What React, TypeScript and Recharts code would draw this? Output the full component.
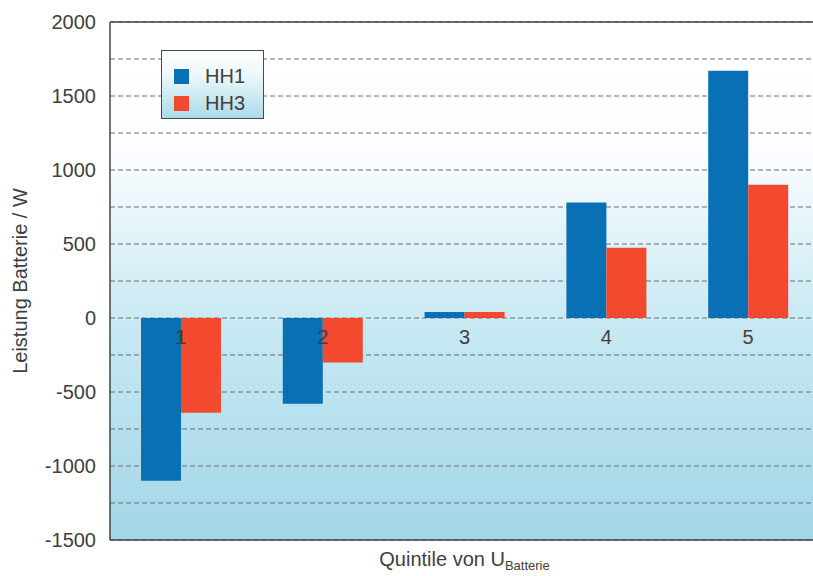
import {
  BarChart,
  Bar,
  XAxis,
  YAxis,
  CartesianGrid,
  Legend,
  ReferenceLine,
} from "recharts";

const quintiles = ["1", "2", "3", "4", "5"];
const hh1 = [-1100, -580, 40, 780, 1670];
const hh3 = [-640, -300, 40, 475, 900];
const yTicks = [-1500, -1250, -1000, -750, -500, -250, 0, 250, 500, 750, 1000, 1250, 1500, 1750, 2000];

const data = quintiles.map((q, i) => ({ name: q, HH1: hh1[i], HH3: hh3[i] }));

const Y_MIN = -1500;
const Y_MAX = 2000;
const CHART_W = 829;
const CHART_H = 576;
const MARGIN_TOP = 22;
const X_AXIS_H = 36;
const PLOT_H = CHART_H - MARGIN_TOP - X_AXIS_H;
// y of the zero line, category numbers sit just below it
const ZERO_Y = MARGIN_TOP + (PLOT_H * Y_MAX) / (Y_MAX - Y_MIN);

const FONT = "'Liberation Sans', Arial, sans-serif";
const TEXT = "#404040";

const CategoryTick = (props: any) => {
  const { x, payload } = props;
  return (
    <text x={x} y={ZERO_Y + 26} textAnchor="middle" fontSize={20} fill={TEXT} fontFamily={FONT}>
      {payload.value}
    </text>
  );
};

const XTitle = (props: any) => {
  const vb = props.viewBox || {};
  const cx = vb.x + vb.width / 2;
  return (
    <text x={cx} y={566} textAnchor="middle" fontSize={20} fill={TEXT} fontFamily={FONT}>
      Quintile von U
      <tspan fontSize={13} dy={4}>
        Batterie
      </tspan>
    </text>
  );
};

const LegendBox = (props: any) => {
  const items = props.payload || [];
  return (
    <div
      style={{
        width: 103,
        height: 69,
        boxSizing: "border-box",
        border: "1.5px solid #4a4a4a",
        background: "linear-gradient(to bottom, #ffffff 0%, #eef8fb 35%, #a9dbea 100%)",
        paddingTop: 12,
        paddingLeft: 12,
        fontFamily: FONT,
      }}
    >
      {items.map((it: any) => (
        <div key={it.value} style={{ display: "flex", alignItems: "center", height: 27 }}>
          <span style={{ width: 15, height: 15, background: it.color, display: "inline-block" }} />
          <span style={{ marginLeft: 16, fontSize: 20, color: TEXT }}>{it.value}</span>
        </div>
      ))}
    </div>
  );
};

export default function App() {
  return (
    <div
      style={{
        position: "fixed",
        left: 0,
        top: 0,
        width: 813,
        height: 576,
        overflow: "hidden",
        background: "#fff",
      }}
    >
      <BarChart
        width={CHART_W}
        height={CHART_H}
        data={data}
        margin={{ top: MARGIN_TOP, right: 10, left: 0, bottom: 0 }}
        barGap={0}
      >
        <defs>
          <linearGradient id="plotBg" x1="0" y1="0" x2="0" y2="1">
            <stop offset="0%" stopColor="#ffffff" />
            <stop offset="24%" stopColor="#fdfeff" />
            <stop offset="42%" stopColor="#e0f3f9" />
            <stop offset="60%" stopColor="#c6e8f3" />
            <stop offset="100%" stopColor="#a3d6e7" />
          </linearGradient>
        </defs>
        <CartesianGrid
          vertical={false}
          stroke="#6f6f6f"
          strokeDasharray="5 3"
          fill="url(#plotBg)"
        />
        <YAxis
          width={110}
          domain={[Y_MIN, Y_MAX]}
          ticks={yTicks}
          interval={0}
          tickFormatter={(v: number) => (v % 500 === 0 ? String(v) : "")}
          tickLine={false}
          tickMargin={8}
          axisLine={{ stroke: "#444", strokeWidth: 1.5 }}
          tick={{ fontSize: 20, fill: TEXT, fontFamily: FONT }}
          label={{
            value: "Leistung Batterie / W",
            angle: -90,
            position: "insideLeft",
            offset: 20,
            style: { textAnchor: "middle", fontSize: 20, fill: TEXT, fontFamily: FONT },
          }}
        />
        <Bar dataKey="HH1" fill="#0a70b6" barSize={40} isAnimationActive={false} />
        <Bar dataKey="HH3" fill="#f3492f" barSize={40} isAnimationActive={false} />
        <XAxis
          dataKey="name"
          height={X_AXIS_H}
          tickLine={false}
          axisLine={{ stroke: "#444", strokeWidth: 1.5 }}
          tick={<CategoryTick />}
          label={<XTitle />}
        />
        <ReferenceLine y={Y_MAX} stroke="#444" strokeWidth={1.5} />
        <Legend
          layout="horizontal"
          verticalAlign="middle"
          align="center"
          content={<LegendBox />}
          wrapperStyle={{ position: "absolute", left: 161, top: 50, width: 103, height: 69 }}
        />
      </BarChart>
    </div>
  );
}
